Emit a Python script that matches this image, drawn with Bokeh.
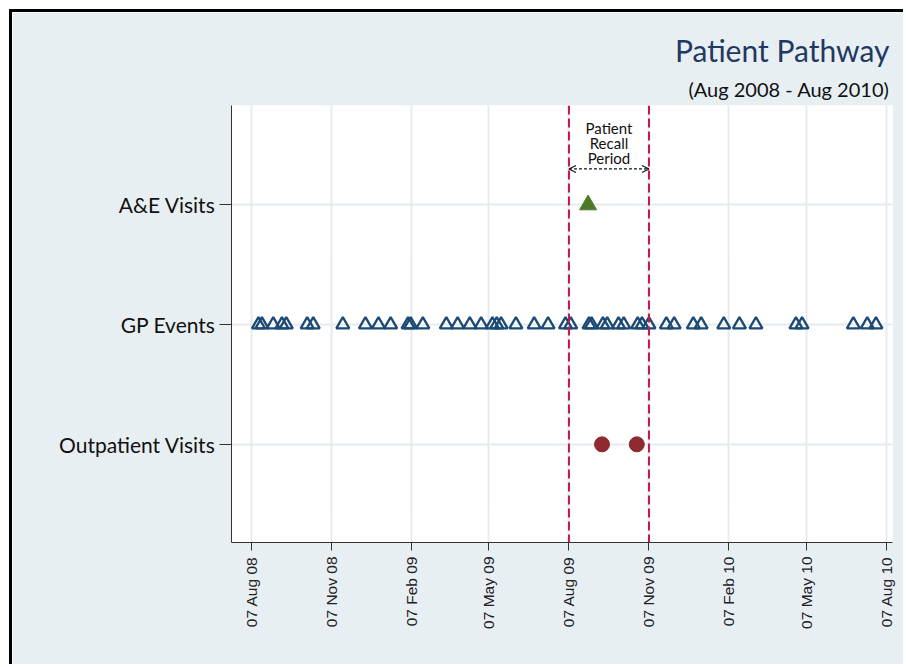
import math
import pandas as pd
from bokeh.plotting import figure
from bokeh.models import (FixedTicker, DatetimeTickFormatter, Span, Arrow, OpenHead,
                          Title, Range1d, ColumnDataSource)
from bokeh.core.properties import value
from bokeh.embed import file_html
from bokeh.resources import INLINE

# ---------------- data ----------------
y_labels = ["Outpatient Visits", "GP Events", "A&E Visits"]
y_levels = [1, 2, 3]

gp_dates = ["2008-08-15", "2008-08-19", "2008-09-01", "2008-09-11", "2008-09-16",
            "2008-10-10", "2008-10-17", "2008-11-20", "2008-12-16", "2008-12-31",
            "2009-01-14", "2009-02-03", "2009-02-06", "2009-02-20", "2009-03-19",
            "2009-04-01", "2009-04-15", "2009-04-28", "2009-05-11", "2009-05-16",
            "2009-05-21", "2009-06-07", "2009-06-28", "2009-07-14", "2009-08-03",
            "2009-08-09", "2009-08-30", "2009-09-02", "2009-09-15", "2009-09-20",
            "2009-10-03", "2009-10-09", "2009-10-25", "2009-10-30", "2009-11-07",
            "2009-11-27", "2009-12-06", "2009-12-28", "2010-01-06", "2010-02-01",
            "2010-02-19", "2010-03-10", "2010-04-25", "2010-05-02", "2010-06-30",
            "2010-07-16", "2010-07-26"]
ae_dates = ["2009-08-29"]
outpatient_dates = ["2009-09-14", "2009-10-24"]

recall_start = "2009-08-07"
recall_end = "2009-11-07"

tick_dates = ["2008-08-07", "2008-11-07", "2009-02-07", "2009-05-07", "2009-08-07",
              "2009-11-07", "2010-02-07", "2010-05-07", "2010-08-07"]
x_start = "2008-07-15"
x_end = "2010-08-14"

title_text = "Patient Pathway"
subtitle_text = "(Aug 2008 - Aug 2010)"
recall_lines = ["Patient", "Recall", "Period"]
recall_y = [3.64, 3.515, 3.39]

# ---------------- helpers ----------------
def ms(s):
    return pd.Timestamp(s).value / 1e6

BG = "#e8eff2"
FONT = "Lato"

p = figure(width=894, height=655, output_backend="svg", toolbar_location=None,
           x_axis_type="datetime",
           x_range=Range1d(ms(x_start), ms(x_end)),
           y_range=Range1d(0.18, 3.83),
           min_border_left=219, min_border_right=14,
           min_border_top=93, min_border_bottom=125)
p.styles = {"border-left": "3px solid #000", "border-top": "3px solid #000",
            "margin-left": "9px", "margin-top": "9px"}

p.background_fill_color = "white"
p.border_fill_color = BG
p.outline_line_color = None

# axes
p.xaxis.ticker = FixedTicker(ticks=[ms(d) for d in tick_dates])
p.xaxis.formatter = DatetimeTickFormatter(days="%d %b %y", months="%d %b %y",
                                          years="%d %b %y")
p.xaxis.major_label_orientation = math.pi / 2
p.xaxis.major_label_text_font = "Liberation Sans"
p.xaxis.major_label_text_font_size = "15.5px"
p.xaxis.major_label_text_color = "#222222"
p.xaxis.major_tick_out = 8
p.xaxis.major_tick_in = 0
p.xaxis.minor_tick_line_color = None
p.xaxis.axis_line_color = "#333333"
p.xaxis.major_tick_line_color = "#333333"
p.xaxis.major_label_standoff = 6

p.yaxis.ticker = FixedTicker(ticks=y_levels)
p.yaxis.major_label_overrides = {lv: lab for lv, lab in zip(y_levels, y_labels)}
p.yaxis.major_label_text_font = FONT
p.yaxis.major_label_text_font_size = "21px"
p.yaxis.major_label_text_color = "#111111"
p.yaxis.major_tick_out = 12
p.yaxis.major_tick_in = 0
p.yaxis.minor_tick_line_color = None
p.yaxis.axis_line_color = "#333333"
p.yaxis.major_tick_line_color = "#333333"
p.yaxis.major_label_standoff = 4

p.xgrid.grid_line_color = "#e4ecf0"
p.ygrid.grid_line_color = "#e4ecf0"
p.xgrid.grid_line_width = 2
p.ygrid.grid_line_width = 2

# recall period lines
for d in (recall_start, recall_end):
    p.add_layout(Span(location=ms(d), dimension="height", line_color="#c8174a",
                      line_width=2, line_dash="9 4"))

# recall annotation
mid = (ms(recall_start) + ms(recall_end)) / 2
p.text(x=[mid] * len(recall_lines), y=recall_y, text=recall_lines,
       text_align="center", text_baseline="middle", text_font=value(FONT),
       text_font_size="15px", text_color="#111111")
p.add_layout(Arrow(x_start=ms(recall_start), x_end=ms(recall_end), y_start=3.30, y_end=3.30,
                   line_color="#111111", line_width=1.2, line_dash="3 2",
                   start=OpenHead(size=7, line_color="#111111", line_width=1.2),
                   end=OpenHead(size=7, line_color="#111111", line_width=1.2)))

# data marks
gp_src = ColumnDataSource(dict(x=pd.to_datetime(gp_dates), y=[2] * len(gp_dates)))
p.scatter("x", "y", source=gp_src, marker="triangle", size=13, fill_color=None,
          line_color="#1c4a74", line_width=2.3)

ae_src = ColumnDataSource(dict(x=pd.to_datetime(ae_dates), y=[3] * len(ae_dates)))
p.scatter("x", "y", source=ae_src, marker="triangle", size=17, fill_color="#4e7a27",
          line_color="#4e7a27")

op_src = ColumnDataSource(dict(x=pd.to_datetime(outpatient_dates), y=[1] * len(outpatient_dates)))
p.scatter("x", "y", source=op_src, marker="circle", size=15, fill_color="#8e2a30",
          line_color="#8e2a30")

# titles (subtitle first -> closest to the plot)
p.add_layout(Title(text=subtitle_text, align="right", text_font=FONT,
                   text_font_size="20px", text_font_style="normal",
                   text_color="#111111", standoff=9, offset=3), "above")
p.add_layout(Title(text=title_text, align="right", text_font=FONT,
                   text_font_size="30px", text_font_style="normal",
                   text_color="#1f3864", standoff=6, offset=3), "above")

open("out.html", "w").write(file_html(p, INLINE))
